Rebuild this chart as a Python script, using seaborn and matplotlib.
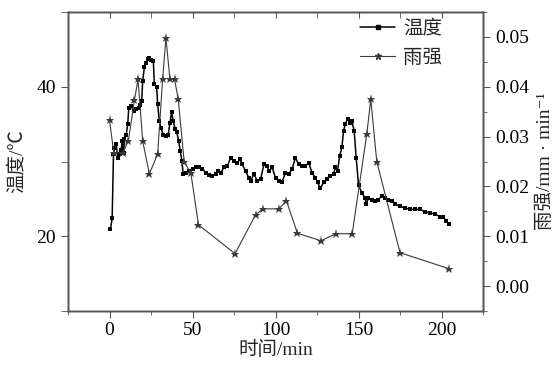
import matplotlib
matplotlib.use("Agg")
import matplotlib.pyplot as plt
import seaborn as sns
import pandas as pd
from matplotlib.ticker import MultipleLocator, FixedLocator
from matplotlib.lines import Line2D

# ---- data ----
temp_time = [0.6, 1.6, 2.4, 3, 4, 5, 6, 7, 7.6, 8.5, 9, 10, 11, 11.6, 13, 14.6, 16, 17.6, 18.5, 19.4,
             20, 21, 22, 23, 24, 25, 26.4, 27, 28.4, 29, 30, 31, 32.4, 34, 35.4, 36.4, 37.4, 38.4, 39.6,
             40.6, 41.6, 42.6, 43.6, 44.4, 46, 48, 50, 52, 54, 56, 58, 60, 62, 64, 65.6, 67, 69, 71, 73,
             75, 77, 78.6, 80, 82, 84, 85, 87, 89, 91, 93, 95, 96, 98, 100, 102, 104, 106, 108, 110, 112,
             114, 116, 118, 120, 122, 124, 125.4, 127, 129, 131, 133, 135, 136, 137.4, 138.6, 140, 141,
             142, 143.4, 145, 146, 147.4, 148.6, 150, 152, 154, 154.6, 156, 158, 160, 162, 164, 166, 168,
             170, 172, 175, 178, 181, 184, 187, 190, 193, 196, 199, 201, 203, 204.4]
temp_value = [21.0, 22.4, 31.0, 31.8, 32.3, 30.5, 31.0, 31.5, 32.7, 31.2, 33.0, 33.5, 35.0, 37.2, 37.4,
              36.8, 37.0, 37.2, 37.5, 38.1, 40.8, 42.6, 43.2, 43.7, 43.8, 43.6, 43.5, 40.4, 39.9, 37.7,
              35.4, 34.5, 33.6, 33.4, 33.6, 35.2, 36.6, 35.4, 34.3, 33.9, 32.8, 31.4, 30.1, 28.3, 28.4,
              28.7, 29.0, 29.3, 29.3, 29.0, 28.5, 28.2, 28.1, 28.3, 28.7, 28.5, 29.2, 29.4, 30.5, 30.1,
              29.8, 30.3, 29.6, 28.7, 27.8, 27.4, 28.3, 27.4, 27.6, 29.6, 29.4, 28.7, 29.2, 27.8, 27.4,
              27.3, 28.5, 28.3, 29.0, 30.5, 29.6, 29.4, 29.4, 29.8, 28.5, 27.8, 27.2, 26.4, 27.2, 27.6,
              28.1, 28.3, 29.2, 28.7, 30.7, 31.9, 34.1, 35.0, 35.7, 35.2, 35.4, 34.1, 30.5, 26.9, 25.8,
              25.1, 24.3, 25.1, 24.9, 24.7, 24.9, 25.4, 25.1, 24.9, 24.7, 24.3, 24.0, 23.8, 23.6, 23.6,
              23.6, 23.3, 23.1, 23.0, 22.6, 22.6, 22.0, 21.6]

rain_time = [0, 2.6, 8, 11.4, 15, 17.2, 20, 24, 29, 32, 34, 36.4, 39.2, 41.4, 45, 49, 53.6, 75.6, 88,
             92.4, 102, 106.6, 113.2, 127.4, 136.4, 146.2, 155, 157.4, 161, 175, 204.4]
rain_value = [0.0333, 0.0267, 0.0267, 0.0292, 0.0373, 0.0415, 0.0291, 0.0225, 0.0265, 0.0415, 0.0498,
              0.0415, 0.0415, 0.0375, 0.0249, 0.0227, 0.0123, 0.0065, 0.0143, 0.0155, 0.0155, 0.0171,
              0.0106, 0.0091, 0.0105, 0.0105, 0.0305, 0.0375, 0.0250, 0.0067, 0.0035]

x_ticks = [0, 50, 100, 150, 200]
left_ticks = [20, 40]
right_ticks = [0, 0.01, 0.02, 0.03, 0.04, 0.05]
right_tick_labels = ["0.00", "0.01", "0.02", "0.03", "0.04", "0.05"]
legend_labels = ["温度", "雨强"]
x_label = "时间/min"
y_label_left = "温度/℃"
y_label_right = "雨强/mm · min⁻¹"

sns.set_style("ticks")
plt.rcParams["font.family"] = ["Liberation Serif", "Noto Sans CJK SC", "DejaVu Sans"]

df_t = pd.DataFrame({"t": temp_time, "v": temp_value})
df_r = pd.DataFrame({"t": rain_time, "v": rain_value})

fig = plt.figure(figsize=(5.58, 3.65), dpi=100)
ax = fig.add_axes([68 / 558, 1 - 311 / 365, (483 - 68) / 558, (311 - 12) / 365])
ax2 = ax.twinx()

spine_c = "#555555"
temp_c = "black"
rain_c = "#3a3a3a"
sns.lineplot(data=df_t, x="t", y="v", ax=ax, sort=False, estimator=None, color=temp_c,
             linewidth=1.1, marker="s", markersize=2.8, markeredgewidth=0, legend=False)
sns.lineplot(data=df_r, x="t", y="v", ax=ax2, sort=False, estimator=None, color=rain_c,
             linewidth=0.8, marker="*", markersize=6.5, markeredgewidth=0, legend=False)

ax.set_xlim(-25, 225)
ax.set_ylim(10, 50)
ax2.set_ylim(-0.005, 0.055)

ax.xaxis.set_major_locator(FixedLocator(x_ticks))
ax.xaxis.set_minor_locator(MultipleLocator(25))
ax.yaxis.set_major_locator(FixedLocator(left_ticks))
ax.yaxis.set_minor_locator(MultipleLocator(10))
ax2.yaxis.set_major_locator(FixedLocator(right_ticks))
ax2.yaxis.set_minor_locator(MultipleLocator(0.005))
ax2.set_yticklabels(right_tick_labels)

# top axis: inward ticks, no labels
ax3 = ax.twiny()
ax3.set_xlim(ax.get_xlim())
ax3.xaxis.set_major_locator(FixedLocator(x_ticks))
ax3.xaxis.set_minor_locator(MultipleLocator(25))
ax3.tick_params(axis="x", which="both", direction="in", length=4, colors=spine_c,
                labeltop=False, top=True, bottom=False)

for a in (ax, ax2, ax3):
    for s in a.spines.values():
        s.set_visible(True)
        s.set_color(spine_c)
        s.set_linewidth(1.0)

ax.tick_params(axis="x", which="both", direction="out", top=False, colors=spine_c,
               labelcolor="black", labelsize=14, pad=3)
ax.tick_params(axis="x", which="major", length=5)
ax.tick_params(axis="x", which="minor", length=3)
ax.tick_params(axis="y", which="both", direction="out", colors=spine_c, labelcolor="black",
               labelsize=14, length=5)
ax2.tick_params(axis="y", which="both", direction="out", colors=spine_c, labelcolor="black",
                labelsize=14)
ax2.tick_params(axis="y", which="major", length=5)
ax2.tick_params(axis="y", which="minor", length=3)

ax.set_xlabel(x_label, fontsize=14, labelpad=1)
ax.set_ylabel(y_label_left, fontsize=14, labelpad=8)
ax2.set_ylabel(y_label_right, fontsize=14, labelpad=6)

handles = [Line2D([], [], color=temp_c, lw=1.1, marker="s", markersize=3),
           Line2D([], [], color=rain_c, lw=0.8, marker="*", markersize=5)]
ax3.legend(handles, legend_labels, loc="upper right", bbox_to_anchor=(0.92, 1.0), frameon=False,
           fontsize=14, handlelength=1.8, handletextpad=0.4, labelspacing=0.6, borderaxespad=0.0)

fig.savefig("out.png", dpi=100)
